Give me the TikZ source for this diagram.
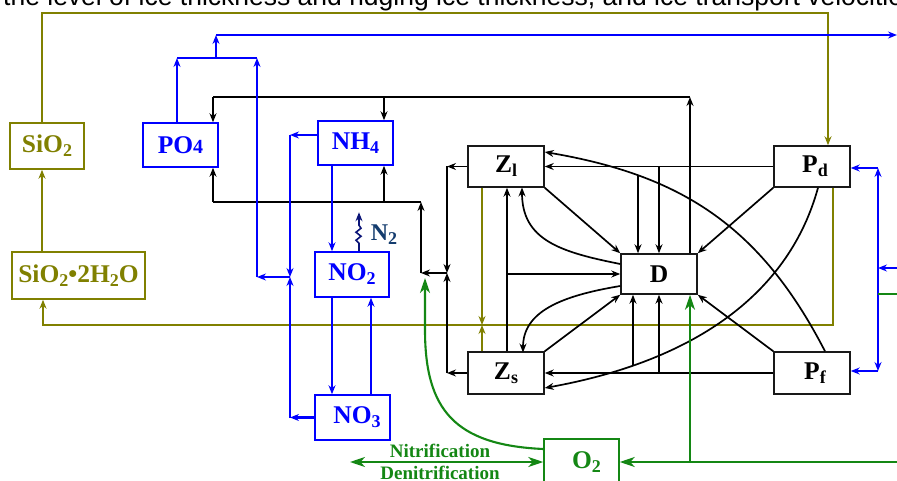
\documentclass[tikz,border=0pt]{standalone}
\usepackage{fontspec}
\setmainfont{Liberation Serif}
\newfontfamily\topfont{Liberation Sans}
\usetikzlibrary{arrows.meta,intersections}
\definecolor{olv}{RGB}{128,128,0}
\definecolor{blu}{RGB}{0,0,255}
\definecolor{grn}{RGB}{20,135,20}
\definecolor{nvy}{RGB}{10,20,120}
\definecolor{ntxt}{RGB}{20,60,110}
\definecolor{bk}{RGB}{25,25,25}
\newcommand{\lowr}[1]{\raisebox{-4pt}{\fontsize{18}{18}\selectfont #1}}
\begin{document}
\begin{tikzpicture}[x=1pt,y=-1pt,
  boxbase/.style={draw, line width=1.5pt, inner sep=0pt, minimum width=76pt, minimum height=42pt,
     font=\fontsize{25.5}{25.5}\selectfont\bfseries},
  kbox/.style={boxbase, draw=bk, text=black},
  bbox/.style={boxbase, draw=blu, text=blu},
  obox/.style={boxbase, draw=olv, text=olv},
  gbox/.style={boxbase, draw=grn, text=grn},
  >={Stealth[length=9pt,width=7pt,inset=3pt]},
  kl/.style={draw=black, line width=1.7pt},
  bl/.style={draw=blu, line width=2.1pt},
  ol/.style={draw=olv, line width=2.1pt},
  gl/.style={draw=grn, line width=2.1pt},
  bigarr/.style={-{Stealth[length=15pt,width=10pt,inset=4.5pt]}},
  bigboth/.style={{Stealth[length=15pt,width=10pt,inset=4.5pt]}-{Stealth[length=15pt,width=10pt,inset=4.5pt]}},
  small/.style={font=\fontsize{19}{19}\selectfont\bfseries, text=grn, inner sep=0pt}
]
\useasboundingbox (0,0) rectangle (897,481);
\fill[white] (0,0) rectangle (897,481);

% title (clipped)
\node[anchor=base west, inner sep=0pt, font=\topfont\fontsize{26.5}{26.5}\selectfont] (ttl) at (3,6)
  {the level of ice thickness and ridging ice thickness, and ice transport velocities};

% boxes
\node[obox, minimum width=74pt, minimum height=46pt] (SiO2) at (47,146) {SiO\lowr{2}};
\node[obox, minimum width=133pt, minimum height=47pt] (SiH) at (78.5,275.5) {SiO\lowr{2}•2H\lowr{2}O};
\node[bbox, minimum width=75pt, minimum height=44pt] (PO4) at (180.5,145) {PO{\fontsize{20}{20}\selectfont 4}};
\node[bbox, minimum width=75pt, minimum height=44pt] (NH4) at (355.5,143) {NH\lowr{4}};
\node[bbox, minimum width=74pt, minimum height=45pt] (NO2) at (352,274.5) {NO\lowr{2}};
\node[bbox, minimum width=75pt, minimum height=45pt] (NO3) at (352.5,417.5) {\hspace{9pt}NO\lowr{3}};
\node[kbox, minimum height=41pt] (Zl) at (506,166.5) {Z\lowr{l}\hspace{8pt}};
\node[kbox, minimum height=41pt] (Pd) at (812,166.5) {\hspace{6pt}P\lowr{d}};
\node[kbox, minimum height=40pt] (D) at (659,274) {D};
\node[kbox] (Zs) at (506,373) {Z\lowr{s}};
\node[kbox] (Pf) at (812,373) {\hspace{6pt}P\lowr{f}};
\node[gbox, minimum width=75pt, minimum height=46pt] (O2) at (581.5,462) {\hspace{10pt}O\lowr{2}};
\node[inner sep=0pt, text=ntxt, font=\fontsize{24}{24}\selectfont\bfseries] (N2) at (384,235) {N\lowr{2}};

% ---------- olive
\coordinate (o1) at (42,13);
\coordinate (o2) at (828,13);
\coordinate (o3) at (833,325);
\coordinate (o4) at (43,325);
\coordinate (o5) at (482,325);
\draw[ol,->] (o1 |- SiO2.north) -- (o1) -- (o2) -- (o2 |- Pd.north);
\draw[ol,->] (o1 |- SiH.north) -- (o1 |- SiO2.south);
\draw[ol,->] (o3 |- Pd.south) -- (o3) -- (o4) -- (o4 |- SiH.south);
\draw[ol,->] (o5 |- Zl.south) -- (o5);
\draw[ol,->] (o5 |- Zs.north) -- (o5);

% ---------- black
\coordinate (b1) at (690,97);
\coordinate (b2) at (213,97);
\coordinate (b5) at (384,97);
\coordinate (j1) at (447,273);
\coordinate (j2) at (421,273);
\coordinate (b3) at (421,202);
\coordinate (b4) at (213,202);
\coordinate (b6) at (384,202);
\draw[kl,->] (b1 |- D.north) -- (b1);
\draw[kl] (b1) -- (b2);
\draw[kl,->] (b2) -- (b2 |- PO4.north);
\draw[kl,->] (b5) -- (b5 |- NH4.north);
\draw[kl,->] (Zl.west) -- (Zl.west -| j1);
\draw[kl,->] (Zl.west -| j1) -- (j1);
\draw[kl,->] (Zs.west) -- (Zs.west -| j1);
\draw[kl,->] (Zs.west -| j1) -- (j1);
\draw[kl,->] (j1) -- (j2);
\draw[kl,->] (j2) -- (b3);
\draw[kl] (b3) -- (b4);
\draw[kl,->] (b4) -- (b4 |- PO4.south);
\draw[kl,->] (b6) -- (b6 |- NH4.south);

\draw[kl,->] (Pd.west) -- (Zl.east);
\draw[kl,->] (D.north |- Zl.east) -- (D.north);
\draw[kl,->] (Pf.west) -- (Zs.east);
\draw[kl,->] (D.south |- Zs.east) -- (D.south);
\draw[kl,->] (Zl.south east) -- (D.north west);
\draw[kl,->] (Pd.south west) -- (D.north east);
\draw[kl,->] (Pf.north west) -- (D.south east);
\draw[kl,->] (Zs.north east) -- (D.south west);
\coordinate (c507) at (507,274);
\draw[kl,->] (c507 |- Zs.north) -- (c507 |- Zl.south);
\draw[kl,->] (c507) -- (D.west);
\draw[kl,->] ([yshift=10pt]D.west) .. controls (560,252) and (522,240) .. (522,187.5);
\draw[kl,->] ([yshift=-12pt]D.west) .. controls (560,296) and (523,312) .. (523,352.5);
\draw[kl,->,name path=cA] ([xshift=13pt]Pf.north) .. controls (760,225) and (680,175) .. ([yshift=14.5pt]Zl.east);
\path[name path=vA] (638,100) -- (638,250);
\path[name intersections={of=cA and vA, by=kA}];
\draw[kl,->] (kA) -- (kA |- D.north);
\draw[kl,->,name path=cB] ([xshift=6pt]Pd.south) .. controls (790,290) and (700,360) .. ([yshift=-15pt]Zs.east);
\path[name path=vB] (633,300) -- (633,400);
\path[name intersections={of=cB and vB, by=kB}];
\draw[kl,->] (kB) -- (kB |- D.south);

% ---------- blue
\coordinate (u1) at (177,58);
\coordinate (u2) at (257,58);
\coordinate (u3) at (216,58);
\coordinate (u4) at (216,35);
\coordinate (u5) at (897,35);
\coordinate (u6) at (257,277);
\coordinate (u7) at (290,277);
\draw[bl,->] (u1 |- PO4.north) -- (u1);
\draw[bl,->] (u6) -- (u2);
\draw[bl] (u1) -- (u2);
\draw[bl,->] (u3) -- (u4);
\draw[bl,->] (u4) -- (u5);
\draw[bl,->] ([yshift=8pt]NH4.west) -- ([yshift=8pt]NH4.west -| u7);
\draw[bl,->] ([yshift=8pt]NH4.west -| u7) -- (u7);
\draw[bl,->] (NO3.west) -- (NO3.west -| u7);
\draw[bl,->] (NO3.west -| u7) -- (u7);
\draw[bl,->] (u7) -- (u6);
\coordinate (n1) at (332,0);
\coordinate (n2) at (371,0);
\draw[bl,->] (n1 |- NH4.south) -- (n1 |- NO2.north);
\draw[bl,->] (n1 |- NO2.south) -- (n1 |- NO3.north);
\draw[bl,->] (n2 |- NO3.north) -- (n2 |- NO2.south);
\coordinate (r0) at (897,268);
\coordinate (r1) at (878,268);
\coordinate (r2) at (878,168);
\coordinate (r3) at (878,371);
\draw[bl,->] (r0) -- (r1);
\draw[bl,->] (r1) -- (r2);
\draw[bl,->] (r2) -- (r2 -| Pd.east);
\draw[bl,->] (r1) -- (r3);
\draw[bl,->] (r3) -- (r3 -| Pf.east);

% N2 zigzag
\draw[draw=nvy, line width=1.6pt, ->] ([xshift=7pt]NO2.north) -- ++(0,-8) -- ++(-3,-3) -- ++(5,-4) -- ++(-5,-4) -- ++(5,-4) -- ++(-2,-3) -- ++(0,-13);

% ---------- green
\coordinate (g0) at (897,294);
\coordinate (g1) at (878,294);
\coordinate (g2) at (897,462);
\coordinate (g3) at (690,462);
\coordinate (g4) at (425,278);
\coordinate (g5) at (350,462);
\draw[gl] (g0) -- (g1);
\draw[gl,bigarr] (g2) -- (O2.east);
\draw[gl,bigarr] (g3) -- (g3 |- D.south);
\draw[gl,bigarr] ([yshift=13pt]O2.west) .. controls (455,445) and (425,410) .. (425,330) -- (g4);
\draw[gl,bigboth] (g5) -- (O2.west);
\node[small, anchor=base] (nit) at (440,457) {Nitrification};
\node[small, anchor=base] (den) at (440,479) {Denitrification};
\end{tikzpicture}
\end{document}
